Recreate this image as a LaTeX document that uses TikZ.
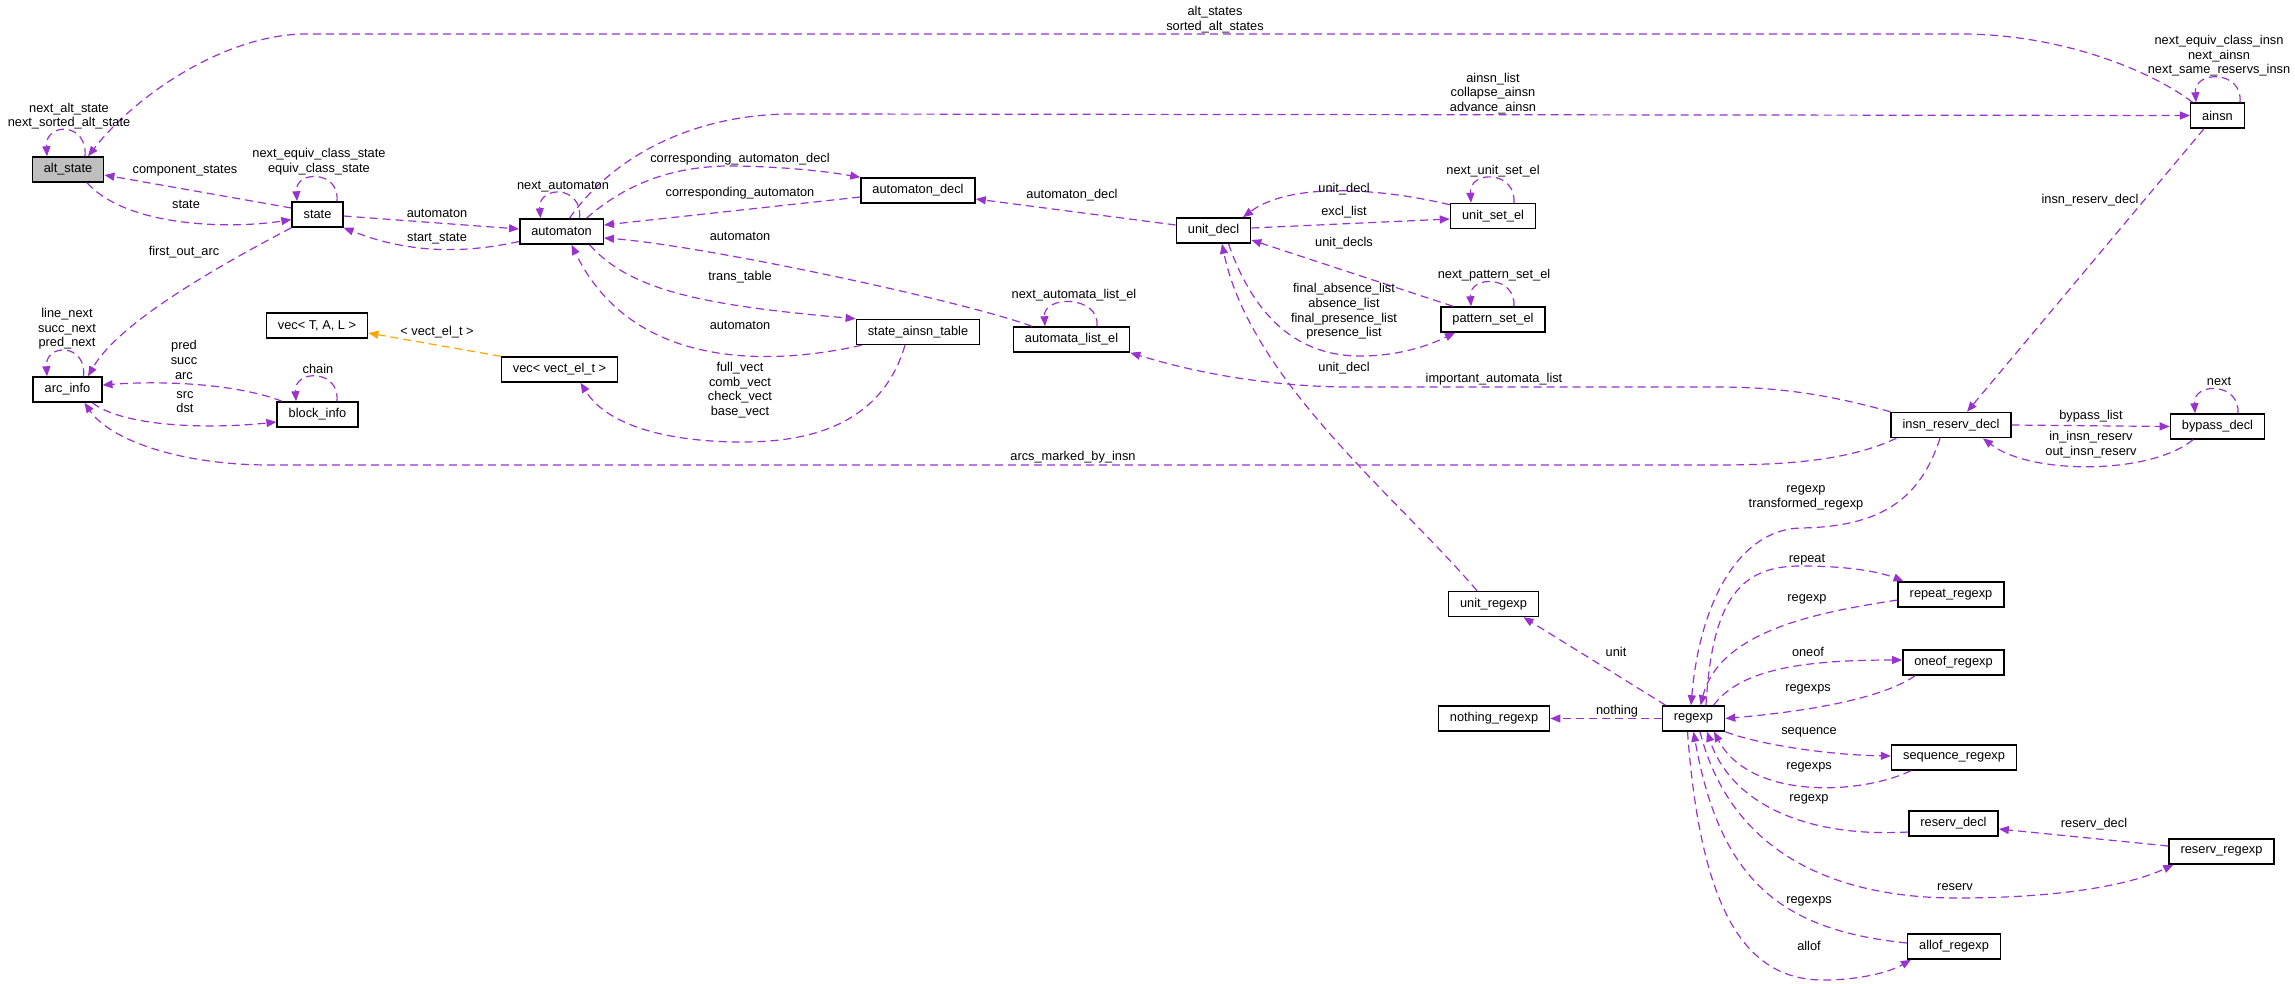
\documentclass[tikz,border=0pt]{standalone}
\usepackage{fontspec}
\setmainfont{Liberation Sans}
\usetikzlibrary{arrows.meta}
\definecolor{membcol}{RGB}{154,50,205}
\definecolor{tmplcol}{RGB}{255,165,0}
\definecolor{rootfill}{RGB}{191,191,191}
\newcommand{\lblfont}{\fontsize{12.8}{14.6}\selectfont}
\tikzset{
  clsbox/.style = {draw=black, line width=1.5pt, fill=white, minimum height=25pt,
                   inner xsep=11.5pt, inner ysep=0pt, font=\lblfont},
  rootbox/.style = {clsbox, fill=rootfill},
  memb/.style = {draw=membcol, line width=1.2pt, dash pattern=on 8pt off 5pt,
                 -{Triangle[length=10pt,width=8pt]}},
  tmpl/.style = {memb, draw=tmplcol},
  lab/.style = {align=center, inner sep=0pt, font=\lblfont}
}

\begin{document}
\begin{tikzpicture}[x=1pt, y=-1pt]
	\useasboundingbox (0,0) rectangle (2295,983);

	% Classes
	\node[rootbox] (alt_state)         at (68,169.5)    {alt\_state};
	\node[clsbox]  (state)             at (317.5,214.5) {state};
	\node[clsbox]  (automaton)         at (561.5,231.5) {automaton};
	\node[clsbox]  (automaton_decl)    at (918,190.5)   {automaton\_decl};
	\node[clsbox]  (unit_decl)         at (1213.5,230.5) {unit\_decl};
	\node[clsbox]  (unit_set_el)       at (1493,216)    {unit\_set\_el};
	\node[clsbox]  (pattern_set_el)    at (1493,319.5)  {pattern\_set\_el};
	\node[clsbox]  (ainsn)             at (2217.5,115.5) {ainsn};
	\node[clsbox]  (state_ainsn_table) at (918,332)     {state\_ainsn\_table};
	\node[clsbox]  (automata_list_el)  at (1071.5,339.5) {automata\_list\_el};
	\node[clsbox]  (vec_tal)           at (317,325.5)   {vec< T, A, L >};
	\node[clsbox]  (vec_el)            at (559.5,369.5) {vec< vect\_el\_t >};
	\node[clsbox]  (arc_info)          at (67.5,389.5)  {arc\_info};
	\node[clsbox]  (block_info)        at (317.5,414.5) {block\_info};
	\node[clsbox]  (insn_reserv_decl)  at (1951,425)    {insn\_reserv\_decl};
	\node[clsbox]  (bypass_decl)       at (2217.5,426.5) {bypass\_decl};
	\node[clsbox]  (unit_regexp)       at (1493.5,604)  {unit\_regexp};
	\node[clsbox]  (repeat_regexp)     at (1951,594.5)  {repeat\_regexp};
	\node[clsbox]  (oneof_regexp)      at (1953.5,662.5) {oneof\_regexp};
	\node[clsbox]  (regexp)            at (1693.5,718.5) {regexp};
	\node[clsbox]  (nothing_regexp)    at (1494,718.5)  {nothing\_regexp};
	\node[clsbox]  (sequence_regexp)   at (1954,757.5)  {sequence\_regexp};
	\node[clsbox]  (reserv_decl)       at (1953.5,823.5) {reserv\_decl};
	\node[clsbox]  (reserv_regexp)     at (2221.5,851.5) {reserv\_regexp};
	\node[clsbox]  (allof_regexp)      at (1954,946.5)  {allof\_regexp};

	% Members: states and automata
	\draw[memb] ([xshift=17pt]alt_state.north) .. controls (88,122) and (45,122) .. ([xshift=-21pt]alt_state.north);
	\draw[memb] ([xshift=-25pt]ainsn.north) .. controls (2150,70) and (2060,34) .. (1961,34) -- (306,34) .. controls (230,34) and (140,90) .. ([xshift=20pt]alt_state.north);
	\draw[memb] ([yshift=6.5pt]state.west) -- ([yshift=-5.5pt]alt_state.east);
	\draw[memb] ([xshift=19pt]alt_state.south) .. controls (130,230) and (240,228) .. ([yshift=-5pt]state.west);
	\draw[memb] ([xshift=19.5pt]state.north) .. controls (340,170) and (295,170) .. ([xshift=-20.5pt]state.north);
	\draw[memb] ([yshift=-1.5pt]state.east) -- ([yshift=2.5pt]automaton.west);
	\draw[memb] ([yshift=-10pt]automaton.west) .. controls (480,250) and (420,258) .. (state.south east);
	\draw[memb] ([xshift=18pt]automaton.north) .. controls (583,185) and (538,185) .. ([xshift=-21pt]automaton.north);
	\draw[memb] ([xshift=8pt]automaton.north) .. controls (610,160) and (690,112) .. (800,114) -- (ainsn.west);
	\draw[memb] ([xshift=25pt]automaton.north) .. controls (630,180) and (680,165) .. (737,166) .. controls (790,167) and (830,172) .. (automaton_decl.north west);
	\draw[memb] ([yshift=-6.5pt]automaton_decl.west) -- ([yshift=6.5pt]automaton.east);
	\draw[memb] ([yshift=5.5pt]unit_decl.west) -- ([yshift=-8.5pt]automaton_decl.east);
	\draw[memb] ([xshift=-39.5pt]automata_list_el.north) .. controls (960,300) and (700,245) .. ([yshift=-6.5pt]automaton.east);
	\draw[memb] ([xshift=28pt]automaton.south) .. controls (630,290) and (700,305) .. (state_ainsn_table.north west);
	\draw[memb] ([xshift=6pt]state_ainsn_table.south west) .. controls (760,368) and (630,365) .. ([xshift=10pt]automaton.south);
	\draw[memb] ([xshift=25.5pt]automata_list_el.north) .. controls (1100,295) and (1043,295) .. ([xshift=-26.5pt]automata_list_el.north);
	\draw[memb] (insn_reserv_decl.north west) .. controls (1830,395) and (1780,387) .. (1717,387) -- (1340,387) .. controls (1250,385) and (1180,368) .. (automata_list_el.south east);

	% Members: units and patterns
	\draw[memb] ([yshift=-2pt]unit_set_el.north west) .. controls (1380,188) and (1290,182) .. ([xshift=29.5pt]unit_decl.north);
	\draw[memb] ([yshift=2.5pt]unit_decl.east) -- ([yshift=-3pt]unit_set_el.west);
	\draw[memb] ([xshift=21pt]unit_set_el.north) .. controls (1516,170) and (1469,170) .. ([xshift=-22pt]unit_set_el.north);
	\draw[memb] ([xshift=-40pt]pattern_set_el.north) -- ([yshift=-9.5pt]unit_decl.east);
	\draw[memb] ([xshift=15pt]unit_decl.south) .. controls (1255,320) and (1300,356) .. (1360,356) .. controls (1400,356) and (1430,345) .. ([xshift=-38pt]pattern_set_el.south);
	\draw[memb] ([xshift=-16.5pt]unit_regexp.north) .. controls (1400,500) and (1250,380) .. ([xshift=8.5pt]unit_decl.south);
	\draw[memb] ([xshift=21pt]pattern_set_el.north) .. controls (1516,275) and (1469,275) .. ([xshift=-22pt]pattern_set_el.north);

	% Members: insns and bypasses
	\draw[memb] ([xshift=22.5pt]ainsn.north) .. controls (2243,70) and (2194,70) .. ([xshift=-21.5pt]ainsn.north);
	\draw[memb] ([xshift=-13.5pt]ainsn.south) -- ([xshift=16pt]insn_reserv_decl.north);
	\draw[memb] (insn_reserv_decl.east) -- (bypass_decl.west);
	\draw[memb] ([xshift=-24.5pt]bypass_decl.south) .. controls (2150,475) and (2030,475) .. ([xshift=32pt]insn_reserv_decl.south);
	\draw[memb] ([xshift=20.5pt]bypass_decl.north) .. controls (2240,382) and (2193,382) .. ([xshift=-22.5pt]bypass_decl.north);
	\draw[memb] ([xshift=6pt]insn_reserv_decl.south west) .. controls (1850,460) and (1790,465) .. (1717,465) -- (270,465) .. controls (180,465) and (110,440) .. ([xshift=17pt]arc_info.south);

	% Members: regexps
	\draw[memb] ([xshift=-11pt]insn_reserv_decl.south) .. controls (1920,500) and (1880,527) .. (1800,528) .. controls (1740,530) and (1700,600) .. ([xshift=-2.5pt]regexp.north);
	\draw[memb] ([xshift=12.5pt]regexp.north) .. controls (1712,600) and (1740,566) .. (1800,566) .. controls (1850,566) and (1880,572) .. ([xshift=6pt]repeat_regexp.north west);
	\draw[memb] ([yshift=-5.5pt]repeat_regexp.west) .. controls (1820,612) and (1720,630) .. ([xshift=7pt]regexp.north);
	\draw[memb] ([xshift=20pt]regexp.north) .. controls (1740,670) and (1800,660) .. ([yshift=2.5pt]oneof_regexp.west);
	\draw[memb] ([xshift=13pt]oneof_regexp.south west) .. controls (1880,700) and (1800,712) .. (regexp.east);
	\draw[memb] (regexp.west) -- (nothing_regexp.east);
	\draw[memb] ([xshift=4pt]regexp.north west) -- ([xshift=30pt]unit_regexp.south);
	\draw[memb] (regexp.south east) .. controls (1760,745) and (1830,755) .. ([yshift=1.5pt]sequence_regexp.west);
	\draw[memb] ([xshift=20pt]sequence_regexp.south west) .. controls (1860,795) and (1750,800) .. ([xshift=20.5pt]regexp.south);
	\draw[memb] ([yshift=-8.5pt]reserv_decl.west) .. controls (1800,838) and (1730,800) .. ([xshift=13.5pt]regexp.south);
	\draw[memb] ([yshift=5.5pt]reserv_regexp.west) -- ([yshift=-5.5pt]reserv_decl.east);
	\draw[memb] ([xshift=6.5pt]regexp.south) .. controls (1730,850) and (1830,898) .. (1957,898) .. controls (2060,898) and (2130,885) .. ([xshift=5pt]reserv_regexp.south west);
	\draw[memb] ([yshift=3.5pt]allof_regexp.west) .. controls (1780,930) and (1720,880) .. (regexp.south);
	\draw[memb] ([xshift=-6pt]regexp.south) .. controls (1700,900) and (1740,980) .. (1823,980) .. controls (1860,980) and (1890,972) .. ([xshift=4pt]allof_regexp.south west);

	% Members: arcs and vectors
	\draw[memb] (state.south west) .. controls (230,260) and (120,320) .. ([xshift=20.5pt]arc_info.north);
	\draw[memb] ([xshift=16pt]arc_info.north) .. controls (87,343) and (45,343) .. ([xshift=-20.5pt]arc_info.north);
	\draw[memb] ([xshift=-35.5pt]block_info.north) .. controls (240,385) and (170,380) .. ([yshift=4.5pt]arc_info.east);
	\draw[memb] ([xshift=25pt]arc_info.south) .. controls (120,425) and (200,430) .. ([yshift=-7.5pt]block_info.west);
	\draw[memb] ([xshift=19.5pt]block_info.north) .. controls (340,369) and (294,369) .. ([xshift=-21.5pt]block_info.north);
	\draw[tmpl] (vec_el.north west) -- ([yshift=-7.5pt]vec_tal.east);
	\draw[memb] ([xshift=-13pt]state_ainsn_table.south) .. controls (880,430) and (800,442) .. (742,442) .. controls (680,442) and (610,430) .. ([xshift=21pt]vec_el.south);

	% Labels
	\node[lab] (l_next_alt)    at (69,116)    {next\_alt\_state\\next\_sorted\_alt\_state};
	\node[lab] (l_alt_states)  at (1215,19.5) {alt\_states\\sorted\_alt\_states};
	\node[lab] (l_comp)        at (185,171)   {component\_states};
	\node[lab] (l_state)       at (186,204.5) {state};
	\node[lab] (l_equiv)       at (319,161.5) {next\_equiv\_class\_state\\equiv\_class\_state};
	\node[lab] (l_automaton)   at (437,213)   {automaton};
	\node[lab] (l_start)       at (437,239)   {start\_state};
	\node[lab] (l_next_aut)    at (563,187)   {next\_automaton};
	\node[lab] (l_ainsn_list)  at (1493,93.5) {ainsn\_list\\collapse\_ainsn\\advance\_ainsn};
	\node[lab] (l_corr_decl)   at (740,159)   {corresponding\_automaton\_decl};
	\node[lab] (l_corr)        at (740,193)   {corresponding\_automaton};
	\node[lab] (l_aut_decl)    at (1072,195)  {automaton\_decl};
	\node[lab] (l_aut_list)    at (740,236)   {automaton};
	\node[lab] (l_trans)       at (740,277)   {trans\_table};
	\node[lab] (l_aut_table)   at (740,325)   {automaton};
	\node[lab] (l_next_list)   at (1074,295)  {next\_automata\_list\_el};
	\node[lab] (l_important)   at (1494,379)  {important\_automata\_list};
	\node[lab] (l_unit_decl_a) at (1344,189)  {unit\_decl};
	\node[lab] (l_excl)        at (1344,212)  {excl\_list};
	\node[lab] (l_next_unit)   at (1493,171)  {next\_unit\_set\_el};
	\node[lab] (l_unit_decls)  at (1344,243)  {unit\_decls};
	\node[lab] (l_absence)     at (1344,311.5) {final\_absence\_list\\absence\_list\\final\_presence\_list\\presence\_list};
	\node[lab] (l_unit_decl_b) at (1344,368)  {unit\_decl};
	\node[lab] (l_next_pat)    at (1494,275)  {next\_pattern\_set\_el};
	\node[lab] (l_insn_decl)   at (2090,200)  {insn\_reserv\_decl};
	\node[lab] (l_bypass)      at (2091,416)  {bypass\_list};
	\node[lab] (l_in_out)      at (2091,444.5) {in\_insn\_reserv\\out\_insn\_reserv};
	\node[lab] (l_next)        at (2219,381)  {next};
	\node[lab] (l_arcs)        at (1073,457)  {arcs\_marked\_by\_insn};
	\node[lab] (l_transf)      at (1806,498)  {regexp\\transformed\_regexp};
	\node[lab] (l_repeat)      at (1807,560)  {repeat};
	\node[lab] (l_regexp_a)    at (1807,599)  {regexp};
	\node[lab] (l_oneof)       at (1808,652)  {oneof};
	\node[lab] (l_regexps_a)   at (1808,689)  {regexps};
	\node[lab] (l_nothing)     at (1617,711)  {nothing};
	\node[lab] (l_unit)        at (1616,652)  {unit};
	\node[lab] (l_sequence)    at (1809,732)  {sequence};
	\node[lab] (l_regexps_b)   at (1809,767)  {regexps};
	\node[lab] (l_regexp_b)    at (1809,799)  {regexp};
	\node[lab] (l_reserv_decl) at (2094,824)  {reserv\_decl};
	\node[lab] (l_reserv)      at (1955,887)  {reserv};
	\node[lab] (l_regexps_c)   at (1809,901)  {regexps};
	\node[lab] (l_allof)       at (1809,946)  {allof};
	\node[lab] (l_first_arc)   at (184,252)   {first\_out\_arc};
	\node[lab] (l_line_next)   at (67,329)    {line\_next\\succ\_next\\pred\_next};
	\node[lab] (l_pred)        at (184,360)   {pred\\succ\\arc};
	\node[lab] (l_src)         at (185,402)   {src\\dst};
	\node[lab] (l_chain)       at (318,369)   {chain};
	\node[lab] (l_vect_el)     at (437,332)   {< vect\_el\_t >};
	\node[lab] (l_vects)       at (740,390)   {full\_vect\\comb\_vect\\check\_vect\\base\_vect};
	\node[lab] (l_next_insn)   at (2219,56)   {next\_equiv\_class\_insn\\next\_ainsn\\next\_same\_reservs\_insn};
\end{tikzpicture}
\end{document}
